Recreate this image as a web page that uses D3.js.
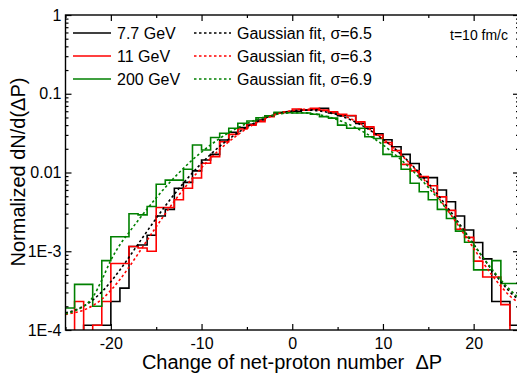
<!DOCTYPE html>
<html>
<head>
<meta charset="utf-8">
<title>Net-proton change</title>
<script src="https://cdn.jsdelivr.net/npm/d3@7/dist/d3.min.js"></script>
<style>
  body { margin: 0; background: #fff; }
  svg { font-family: "Liberation Sans", Arial, sans-serif; }
</style>
</head>
<body>
<div id="chart"></div>
<script>
// bin edges of the histograms (bin k spans edge k .. k+1)
var binEdges = [-25,-24,-23,-22,-21,-20,-19,-18,-17,-16,-15,-14,-13,-12,-11,-10,-9,-8,-7,-6,-5,-4,-3,-2,-1,
                0,1,2,3,4,5,6,7,8,9,10,11,12,13,14,15,16,17,18,19,20,21,22,23,24,25];
// x positions of the fit curves
var fitX = binEdges;

// histograms, one value per bin (0 = empty bin)
var hist77 = [0, 0, 1.15e-4, 1.15e-4, 1.15e-4, 2.3e-4, 3.4e-4, 1.15e-3, 1.2e-3, 1.6e-3,
              2.8e-3, 3.4e-3, 6.3e-3, 7.5e-3, 0.0105, 0.0144, 0.017, 0.0259, 0.0324, 0.0371,
              0.0409, 0.0464, 0.0526, 0.0565, 0.058, 0.060, 0.062, 0.063, 0.0655, 0.057,
              0.0526, 0.0526, 0.042, 0.0364, 0.031, 0.026, 0.0212, 0.017, 0.013, 0.0086,
              0.0086, 0.0060, 4.26e-3, 2.8e-3, 1.86e-3, 1.29e-3, 8e-4, 2.3e-4, 2.3e-4, 1.15e-4];
var hist11 = [0, 2.3e-4, 0, 1.15e-4, 2.3e-4, 7.0e-4, 7.0e-4, 1.15e-3, 1.1e-3, 1.0e-3,
              3.6e-3, 3.6e-3, 4.5e-3, 6.3e-3, 8.5e-3, 0.0131, 0.0159, 0.0246, 0.0305, 0.0357,
              0.040, 0.0442, 0.0512, 0.0565, 0.059, 0.064, 0.062, 0.0655, 0.062, 0.059,
              0.055, 0.053, 0.044, 0.038, 0.030, 0.024, 0.019, 0.0127, 0.0105, 0.0089,
              0.0068, 4.9e-3, 3.3e-3, 1.9e-3, 1.5e-3, 7.5e-4, 4.7e-4, 4.7e-4, 2.1e-4, 0];
var hist200 = [1.9e-4, 3.8e-4, 3.8e-4, 2.0e-4, 7.6e-4, 1.53e-3, 1.53e-3, 3.0e-3, 2.9e-3, 3.7e-3,
               7.1e-3, 8.0e-3, 8.0e-3, 0.011, 0.0223, 0.0193, 0.0278, 0.0315, 0.0364, 0.0422,
               0.045, 0.0496, 0.0526, 0.058, 0.058, 0.057, 0.057, 0.055, 0.0512, 0.049,
               0.040, 0.0364, 0.0364, 0.0284, 0.027, 0.017, 0.016, 0.011, 0.0073, 0.0057,
               4.5e-3, 3.4e-3, 2.6e-3, 1.8e-3, 1.3e-3, 5.8e-4, 5.8e-4, 7.6e-4, 3.9e-4, 3.9e-4];

// Gaussian fit curves, read at integer x
var fit77 = [1.65e-4, 1.78e-4, 2.01e-4, 2.4e-4, 3.05e-4, 4.11e-4, 5.79e-4, 8.39e-4, 1.23e-3, 1.80e-3,
             2.62e-3, 3.76e-3, 5.30e-3, 7.32e-3, 9.91e-3, 0.0131, 0.0170, 0.0215, 0.0265, 0.0320,
             0.0378, 0.0435, 0.0490, 0.0538, 0.0577, 0.0605, 0.0620, 0.0620, 0.0605, 0.0577,
             0.0538, 0.0490, 0.0435, 0.0378, 0.0320, 0.0265, 0.0215, 0.0170, 0.0131, 9.91e-3,
             7.32e-3, 5.30e-3, 3.76e-3, 2.62e-3, 1.80e-3, 1.23e-3, 8.39e-4, 5.79e-4, 4.11e-4, 3.05e-4, 2.4e-4];
var fit11 = [1.58e-4, 1.66e-4, 1.79e-4, 2.04e-4, 2.46e-4, 3.19e-4, 4.38e-4, 6.28e-4, 9.26e-4, 1.38e-3,
             2.04e-3, 3.0e-3, 4.32e-3, 6.12e-3, 8.48e-3, 0.0115, 0.0152, 0.0196, 0.0246, 0.0302,
             0.0362, 0.0423, 0.0482, 0.0536, 0.0581, 0.0614, 0.0633, 0.0636, 0.0623, 0.0596,
             0.0555, 0.0505, 0.0447, 0.0387, 0.0326, 0.0268, 0.0215, 0.0168, 0.0129, 9.6e-3,
             6.99e-3, 4.98e-3, 3.48e-3, 2.39e-3, 1.61e-3, 1.09e-3, 7.3e-4, 5.0e-4, 3.6e-4, 2.7e-4, 2.2e-4];
var fit200 = [1.6e-4, 1.75e-4, 2.0e-4, 2.6e-4, 4.3e-4, 7.7e-4, 1.21e-3, 1.73e-3, 2.46e-3, 3.44e-3,
              4.76e-3, 6.47e-3, 8.63e-3, 0.0113, 0.0145, 0.0182, 0.0224, 0.0271, 0.032, 0.037,
              0.042, 0.0466, 0.0507, 0.054, 0.0563, 0.0575, 0.0575, 0.0563, 0.054, 0.0507,
              0.0466, 0.042, 0.037, 0.032, 0.0271, 0.0224, 0.0182, 0.0145, 0.0113, 8.63e-3,
              6.47e-3, 4.76e-3, 3.44e-3, 2.46e-3, 1.73e-3, 1.21e-3, 8.46e-4, 5.97e-4, 4.32e-4, 3.24e-4, 2.55e-4];

var seriesNames = ["7.7 GeV", "11 GeV", "200 GeV"];
var fitNames = ["Gaussian fit, \u03c3=6.5", "Gaussian fit, \u03c3=6.3", "Gaussian fit, \u03c3=6.9"];
var seriesColors = ["#000000", "#ff0000", "#008000"];

var xMajor = [-20, -10, 0, 10, 20];
var xMinor = [-25, -15, -5, 5, 15, 25];
var xTickLabels = ["-20", "-10", "0", "10", "20"];
var yMajor = [1e-4, 1e-3, 0.01, 0.1, 1];
var yTickLabels = ["1E-4", "1E-3", "0.01", "0.1", "1"];

var width = 517, height = 375;
var plotL = 65.5, plotR = 519, plotT = 15, plotB = 330;

var svg = d3.select("#chart").append("svg")
    .attr("width", width)
    .attr("height", height);

var x = d3.scaleLinear().domain([-25, 25]).range([plotL, plotR]);
var y = d3.scaleLog().domain([1e-4, 1]).range([plotB, plotT]);

// minor ticks of the log axis: 2..9 of each decade
var yMinor = [];
[1e-4, 1e-3, 0.01, 0.1].forEach(function(d) {
    for (var m = 2; m < 10; m++) yMinor.push(d * m);
});

svg.append("clipPath").attr("id", "plotclip")
  .append("rect")
    .attr("x", plotL).attr("y", plotT)
    .attr("width", plotR - plotL).attr("height", plotB - plotT);

var plot = svg.append("g").attr("clip-path", "url(#plotclip)");

function yv(v) { return y(v > 0 ? v : 1e-6); }

var stepLine = d3.line()
    .x(function(d) { return x(d[0]); })
    .y(function(d) { return yv(d[1]); })
    .curve(d3.curveStepAfter);

var smoothLine = d3.line()
    .x(function(d) { return x(d[0]); })
    .y(function(d) { return y(d[1]); })
    .curve(d3.curveMonotoneX);

var hists = [hist77, hist11, hist200];
var fits = [fit77, fit11, fit200];

hists.forEach(function(h, s) {
    var pts = h.map(function(v, i) { return [binEdges[i], v]; });
    pts.push([binEdges[h.length], h[h.length - 1]]);
    plot.append("path")
        .attr("d", stepLine(pts))
        .attr("fill", "none")
        .attr("stroke", seriesColors[s])
        .attr("stroke-width", 1.6);
});

fits.forEach(function(f, s) {
    var pts = f.map(function(v, i) { return [fitX[i], v]; });
    plot.append("path")
        .attr("d", smoothLine(pts))
        .attr("fill", "none")
        .attr("stroke", seriesColors[s])
        .attr("stroke-width", 1.6)
        .attr("stroke-dasharray", "2.5,2.5");
});

// axes: ticks point inward on all four sides
function styleAxis(g) {
    g.select(".domain").remove();
    g.selectAll(".tick line").attr("stroke", "#000").attr("stroke-width", 1.2);
    g.selectAll("text").attr("fill", "#000").style("font-size", "16px")
        .style("font-family", "'Liberation Sans', Arial, sans-serif");
}

svg.append("g").attr("transform", "translate(0," + plotB + ")")
    .call(d3.axisBottom(x).tickValues(xMajor).tickSizeInner(-6).tickSizeOuter(0).tickPadding(8)
        .tickFormat(function(d, i) { return xTickLabels[i]; }))
    .call(styleAxis);
svg.append("g").attr("transform", "translate(0," + plotB + ")")
    .call(d3.axisBottom(x).tickValues(xMinor).tickSizeInner(-3).tickSizeOuter(0).tickFormat(""))
    .call(styleAxis);
svg.append("g").attr("transform", "translate(0," + plotT + ")")
    .call(d3.axisTop(x).tickValues(xMajor).tickSizeInner(-6).tickSizeOuter(0).tickFormat(""))
    .call(styleAxis);
svg.append("g").attr("transform", "translate(0," + plotT + ")")
    .call(d3.axisTop(x).tickValues(xMinor).tickSizeInner(-3).tickSizeOuter(0).tickFormat(""))
    .call(styleAxis);

svg.append("g").attr("transform", "translate(" + plotL + ",0)")
    .call(d3.axisLeft(y).tickValues(yMajor).tickSizeInner(-6).tickSizeOuter(0).tickPadding(4)
        .tickFormat(function(d, i) { return yTickLabels[i]; }))
    .call(styleAxis);
svg.append("g").attr("transform", "translate(" + plotL + ",0)")
    .call(d3.axisLeft(y).tickValues(yMinor).tickSizeInner(-3).tickSizeOuter(0).tickFormat(""))
    .call(styleAxis);
svg.append("g").attr("transform", "translate(" + plotR + ",0)")
    .call(d3.axisRight(y).tickValues(yMajor).tickSizeInner(-6).tickSizeOuter(0).tickFormat(""))
    .call(styleAxis);
svg.append("g").attr("transform", "translate(" + plotR + ",0)")
    .call(d3.axisRight(y).tickValues(yMinor).tickSizeInner(-3).tickSizeOuter(0).tickFormat(""))
    .call(styleAxis);

svg.append("rect")
    .attr("x", plotL).attr("y", plotT)
    .attr("width", plotR - plotL).attr("height", plotB - plotT)
    .attr("fill", "none").attr("stroke", "#000").attr("stroke-width", 1.4);

// axis titles
svg.append("text")
    .attr("x", 292).attr("y", 369)
    .attr("text-anchor", "middle")
    .style("font-size", "20px")
    .style("white-space", "pre")
    .text("Change of net-proton number  \u0394P");

svg.append("text")
    .attr("transform", "translate(25,172) rotate(-90)")
    .attr("text-anchor", "middle")
    .style("font-size", "20px")
    .text("Normalized dN/d(\u0394P)");

// legend
var rowY = [33, 56, 79];
seriesNames.forEach(function(name, i) {
    svg.append("line")
        .attr("x1", 73).attr("x2", 111).attr("y1", rowY[i]).attr("y2", rowY[i])
        .attr("stroke", seriesColors[i]).attr("stroke-width", 1.6);
    svg.append("text")
        .attr("x", 117).attr("y", rowY[i]).attr("dy", "0.35em")
        .style("font-size", "16px").text(name);
    svg.append("line")
        .attr("x1", 194).attr("x2", 231).attr("y1", rowY[i]).attr("y2", rowY[i])
        .attr("stroke", seriesColors[i]).attr("stroke-width", 1.6)
        .attr("stroke-dasharray", "2.5,2.5");
    svg.append("text")
        .attr("x", 237).attr("y", rowY[i]).attr("dy", "0.35em")
        .style("font-size", "16px").text(fitNames[i]);
});

svg.append("text")
    .attr("x", 508).attr("y", 35).attr("dy", "0.35em")
    .attr("text-anchor", "end")
    .style("font-size", "14px")
    .text("t=10 fm/c");
</script>
</body>
</html>
